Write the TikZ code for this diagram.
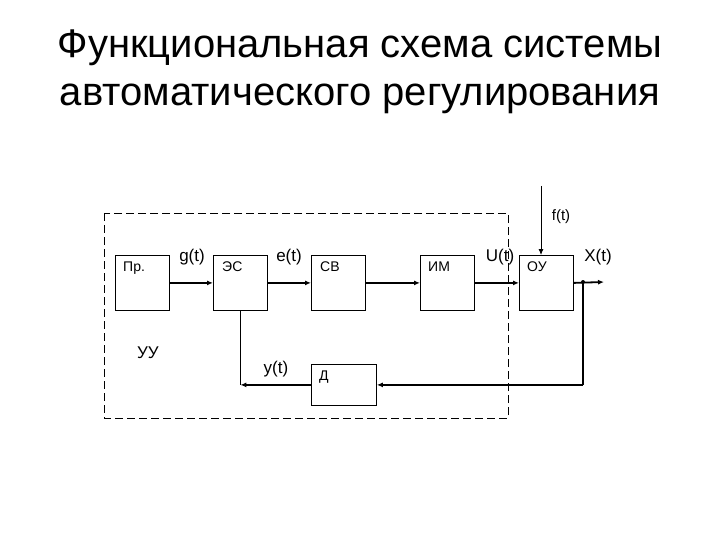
\documentclass[tikz,border=0pt]{standalone}
\usepackage{fontspec}
\setmainfont{Liberation Sans}
\usetikzlibrary{arrows.meta}
\begin{document}
\begin{tikzpicture}[x=1pt,y=-1pt,
  blk/.style={draw, line width=0.8pt, minimum width=54pt, minimum height=55pt, inner sep=0pt, anchor=north west},
  blbl/.style={anchor=north west, font=\fontsize{14}{14}\selectfont, inner sep=0pt},
  sig/.style={font=\fontsize{17}{17}\selectfont, inner sep=0pt},
  thick arr/.style={line width=1.8pt, -{Latex[length=6pt,width=5pt]}},
  thin arr/.style={line width=0.8pt, -{Latex[length=6pt,width=5pt]}}]
\useasboundingbox (0,0) rectangle (720,540);
% title
\node[font=\fontsize{40}{48}\selectfont, align=center] (title) at (360,72) {Функциональная схема системы\\автоматического регулирования};
% dashed frame
\draw[dash pattern=on 8pt off 4pt, line width=0.8pt] (104,213) rectangle (508,418);
% blocks
\node[blk] (pr) at (115,255) {};
\node[blk] (es) at (213,255) {};
\node[blk] (sv) at (311,255) {};
\node[blk] (im) at (420,255) {};
\node[blk] (ou) at (519,255) {};
\node[blk, minimum width=65pt, minimum height=41pt] (d) at (311,364) {};
% block labels
\node[blbl] at (123,262) {Пр.};
\node[blbl] at (222,262) {ЭС};
\node[blbl] at (320,262) {СВ};
\node[blbl] at (428,262) {ИМ};
\node[blbl] at (527,262) {ОУ};
\node[blbl] at (319,371) {Д};
\node[font=\fontsize{17}{17}\selectfont] (uu) at (148,353) {УУ};
% signal labels
\node[sig] (g) at (192,257) {g(t)};
\node[sig] (e) at (289,257) {e(t)};
\node[sig] (u) at (500,257) {U(t)};
\node[sig] (x) at (598,257) {X(t)};
\node[sig] (y) at (276,369) {y(t)};
\node[font=\fontsize{15}{15}\selectfont, inner sep=0pt] (f) at (561,217) {f(t)};
% connectors
\draw[thick arr] (pr.east) -- (es.west);
\draw[thick arr] (es.east) -- (sv.west);
\draw[thick arr] (sv.east) -- (im.west);
\draw[thick arr] (im.east) -- (ou.west);
\coordinate (xo) at (604,282);
\coordinate (tap) at (583,282);
\draw[thick arr] (ou.east) -- (xo);
\fill (tap) circle (2pt);
\coordinate (ftop) at (541,186);
\draw[thin arr] (ftop) -- (ftop |- ou.north);
\draw[line width=1.8pt] (tap) -- (tap |- d.east);
\draw[thick arr] (tap |- d.east) -- (d.east);
\coordinate (fb) at (es.south |- d.west);
\draw[line width=0.8pt] (es.south) -- (fb);
\draw[thick arr] (d.west) -- (fb);
\end{tikzpicture}
\end{document}
